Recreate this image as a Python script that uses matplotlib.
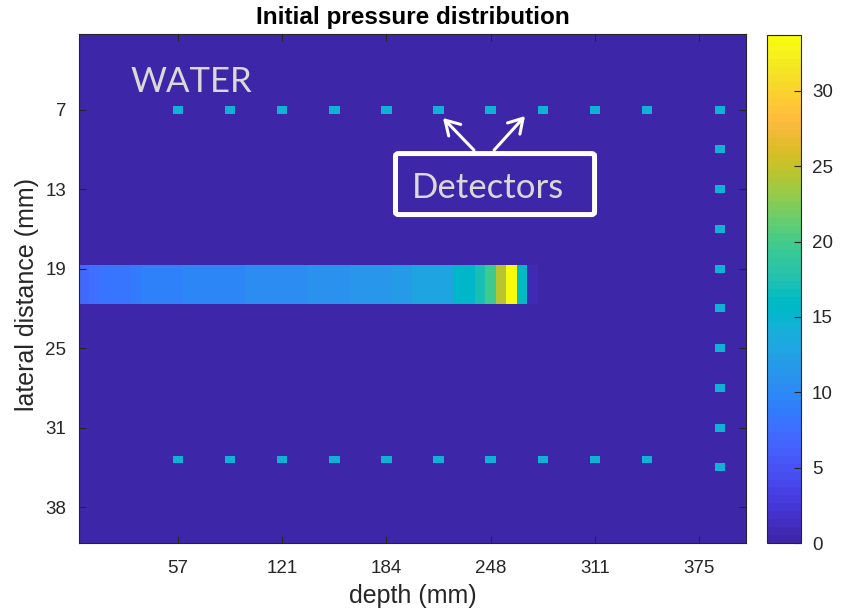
import numpy as np
import matplotlib
matplotlib.use("Agg")
import matplotlib.pyplot as plt
from matplotlib.colors import ListedColormap
from matplotlib.patches import FancyBboxPatch

# parula (64 entries)
PARULA = [
    [0.2422, 0.1504, 0.6603], [0.2504, 0.1650, 0.7076], [0.2578, 0.1818, 0.7511], [0.2647, 0.1978, 0.7952],
    [0.2706, 0.2147, 0.8364], [0.2751, 0.2342, 0.8710], [0.2783, 0.2559, 0.8991], [0.2803, 0.2782, 0.9221],
    [0.2813, 0.3006, 0.9414], [0.2810, 0.3228, 0.9579], [0.2795, 0.3447, 0.9717], [0.2760, 0.3667, 0.9829],
    [0.2699, 0.3892, 0.9906], [0.2602, 0.4123, 0.9952], [0.2440, 0.4358, 0.9988], [0.2206, 0.4603, 0.9973],
    [0.1963, 0.4847, 0.9892], [0.1834, 0.5074, 0.9798], [0.1786, 0.5289, 0.9682], [0.1764, 0.5499, 0.9520],
    [0.1687, 0.5703, 0.9359], [0.1540, 0.5902, 0.9218], [0.1460, 0.6091, 0.9079], [0.1380, 0.6276, 0.8973],
    [0.1248, 0.6459, 0.8883], [0.1113, 0.6635, 0.8763], [0.0952, 0.6798, 0.8598], [0.0689, 0.6948, 0.8394],
    [0.0297, 0.7082, 0.8163], [0.0036, 0.7203, 0.7917], [0.0067, 0.7312, 0.7660], [0.0433, 0.7411, 0.7394],
    [0.0964, 0.7500, 0.7120], [0.1408, 0.7584, 0.6842], [0.1717, 0.7670, 0.6554], [0.1938, 0.7758, 0.6251],
    [0.2161, 0.7843, 0.5923], [0.2470, 0.7918, 0.5567], [0.2906, 0.7973, 0.5188], [0.3406, 0.8008, 0.4789],
    [0.3909, 0.8029, 0.4354], [0.4456, 0.8024, 0.3909], [0.5044, 0.7993, 0.3480], [0.5616, 0.7942, 0.3045],
    [0.6174, 0.7876, 0.2612], [0.6720, 0.7793, 0.2227], [0.7242, 0.7698, 0.1910], [0.7738, 0.7598, 0.1646],
    [0.8203, 0.7498, 0.1535], [0.8634, 0.7406, 0.1596], [0.9035, 0.7330, 0.1774], [0.9393, 0.7288, 0.2100],
    [0.9728, 0.7298, 0.2394], [0.9956, 0.7434, 0.2371], [0.9970, 0.7659, 0.2199], [0.9952, 0.7893, 0.2028],
    [0.9892, 0.8136, 0.1885], [0.9813, 0.8386, 0.1760], [0.9733, 0.8639, 0.1645], [0.9661, 0.8893, 0.1497],
    [0.9619, 0.9147, 0.1308], [0.9629, 0.9405, 0.1130], [0.9670, 0.9661, 0.0954], [0.9763, 0.9831, 0.0538],
]
parula = ListedColormap(PARULA, name="parula")

# simulation grid (cells)
nx, ny = 64, 64

# initial pressure of the beam along depth, one value per grid column
beam_profile = [
    7.2, 7.8, 8.0, 8.0, 8.1, 8.9, 9.0, 9.0, 9.1, 9.1,
    9.5, 9.6, 9.6, 9.6, 9.7, 9.7, 10.2, 10.2, 10.2, 10.3,
    10.3, 10.3, 10.8, 10.8, 10.8, 10.8, 11.3, 11.3, 11.3, 11.3,
    11.9, 11.9, 13.0, 13.0, 13.0, 13.1, 15.3, 15.6, 17.3, 19.8,
    24.5, 33.7, 16.0, 0.9,
]
beam_rows = [30, 31, 32, 33, 34]

# detector positions (grid indices, 1-based)
sensor_cols = [10, 15, 20, 25, 30, 35, 40, 45, 50, 55]
sensor_row_top = 10
sensor_row_bottom = 54
side_col = 62
side_rows = [10, 15, 20, 25, 30, 35, 40, 45, 50, 55]
sensor_level = 14.4

p_max = 33.7

depth_tick_idx = [10, 20, 30, 40, 50, 60]
depth_tick_labels = ["57", "121", "184", "248", "311", "375"]
lateral_tick_idx = [10, 20, 30, 40, 50, 60]
lateral_tick_labels = ["7", "13", "19", "25", "31", "38"]
cbar_ticks = [0, 5, 10, 15, 20, 25, 30]

# build p0
p0 = np.zeros((ny, nx))
for r in beam_rows:
    p0[r - 1, :len(beam_profile)] = beam_profile
for c in sensor_cols:
    p0[sensor_row_top - 1, c - 1] = sensor_level
    p0[sensor_row_bottom - 1, c - 1] = sensor_level
for r in side_rows:
    p0[r - 1, side_col - 1] = sensor_level

plt.rcParams["font.family"] = ["Liberation Sans", "DejaVu Sans"]
axcol = "#262626"

fig = plt.figure(figsize=(8.43, 6.10), dpi=100)
ax = fig.add_axes([0.0937, 0.1098, 0.7912, 0.8344])
im = ax.imshow(p0, cmap=parula, vmin=0, vmax=p_max,
               extent=[0.5, nx + 0.5, ny + 0.5, 0.5],
               aspect="auto", interpolation="nearest")

ax.set_xticks(depth_tick_idx)
ax.set_xticklabels(depth_tick_labels)
ax.set_yticks(lateral_tick_idx)
ax.set_yticklabels(lateral_tick_labels)
ax.tick_params(direction="in", top=True, right=True, length=5, width=0.8,
               color=axcol, labelcolor=axcol, labelsize=13.5)
ax.tick_params(axis="x", pad=12)
ax.tick_params(axis="y", pad=9)
for s in ax.spines.values():
    s.set_color(axcol)
    s.set_linewidth(0.8)

ax.set_xlabel("depth (mm)", fontsize=18, color=axcol, labelpad=5)
ax.set_ylabel("lateral distance (mm)", fontsize=18, color=axcol, labelpad=5)
ax.yaxis.label.set_y(0.488)
ax.set_title("Initial pressure distribution", fontsize=17.5, fontweight="bold", color="black", pad=7)

# labels on the image
ax.text(5.4, 7.75, "WATER", family="Lato", fontsize=25, color="#d9d9d9", va="baseline")
ax.text(39.75, 21.12, "Detectors", family="Lato", fontsize=25, color="#d9d9d9",
        ha="center", va="baseline")
box = FancyBboxPatch((30.87, 15.53), 19.1, 7.67, boxstyle="round,pad=0,rounding_size=0.3",
                     fill=False, ec="white", lw=3.6)
ax.add_patch(box)
for tail, head in [((38.4, 15.1), (35.43, 11.06)), ((40.33, 15.1), (43.3, 10.81))]:
    ax.annotate("", xy=head, xytext=tail,
                arrowprops=dict(arrowstyle="->,head_length=0.5,head_width=0.3",
                                color="white", lw=2.2, mutation_scale=20,
                                shrinkA=0, shrinkB=0))

# colorbar
cax = fig.add_axes([0.9098, 0.1098, 0.0403, 0.8328])
cb = fig.colorbar(im, cax=cax, ticks=cbar_ticks)
cb.ax.tick_params(direction="in", length=5, width=0.8, color=axcol,
                  labelcolor=axcol, labelsize=13.5, pad=8)
cb.outline.set_edgecolor(axcol)
cb.outline.set_linewidth(0.8)

fig.savefig("out.png", dpi=100)
